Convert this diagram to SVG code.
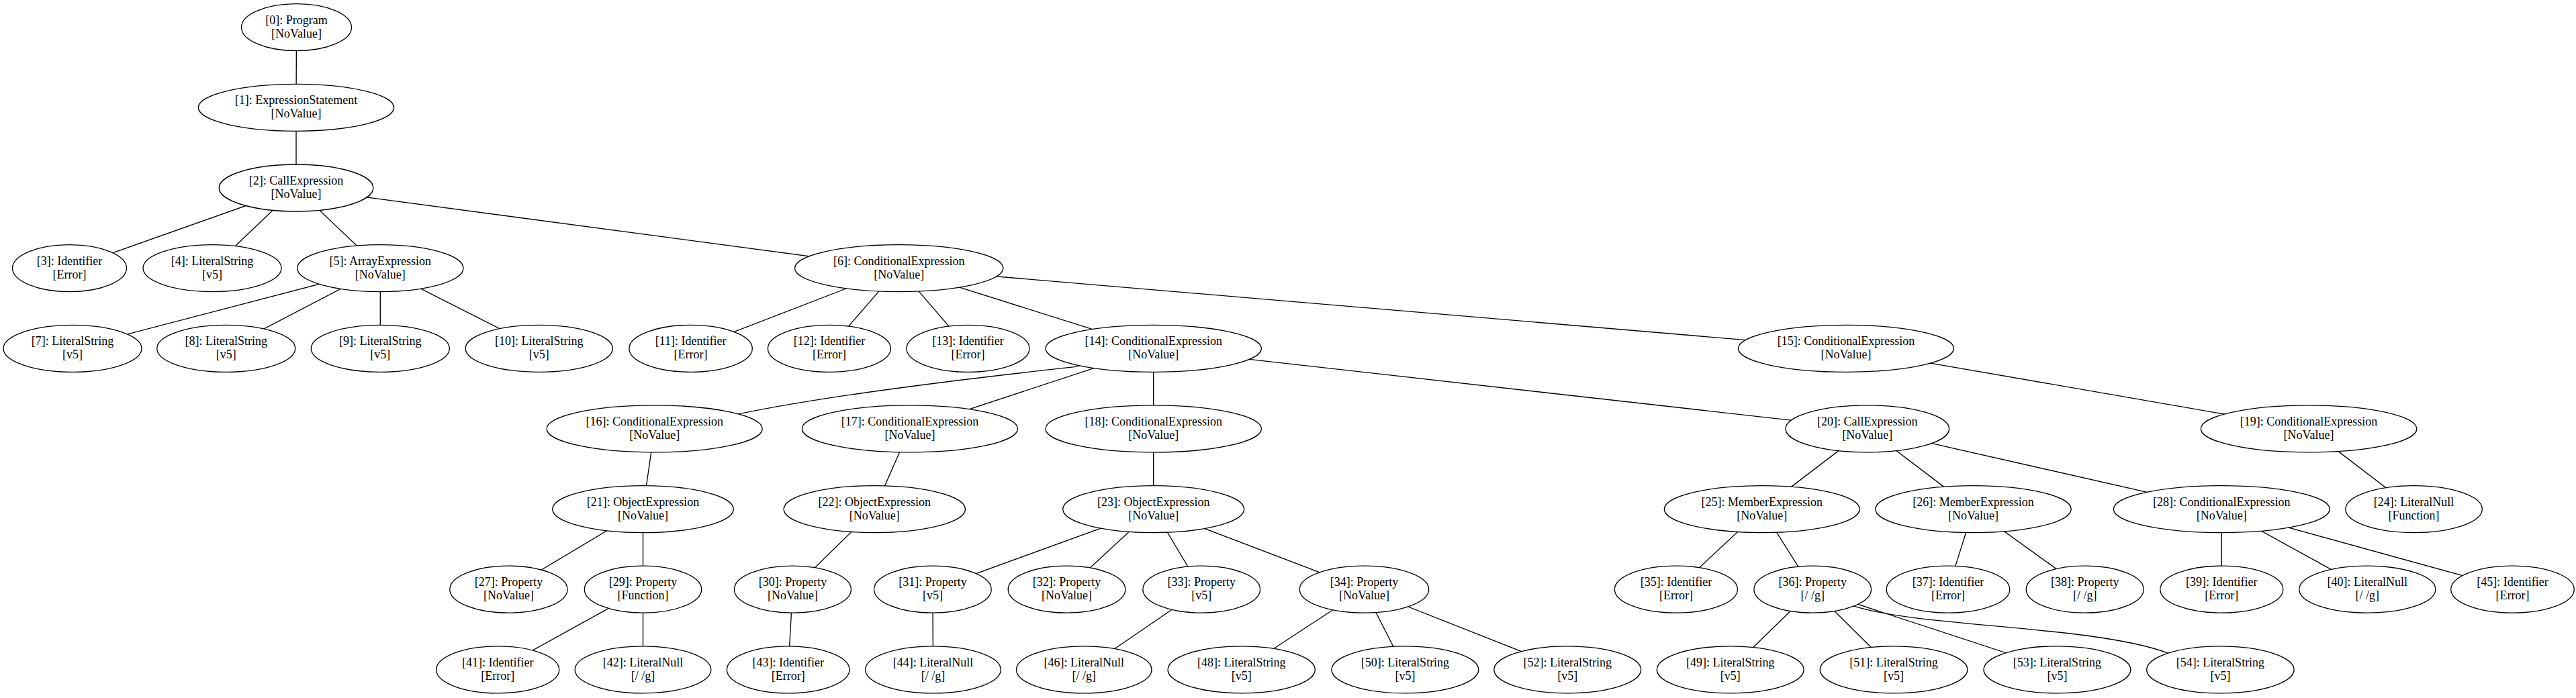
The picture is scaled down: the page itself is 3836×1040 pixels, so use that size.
<svg xmlns="http://www.w3.org/2000/svg" width="3836" height="1040" viewBox="0 0 3836 1040">
<style>
ellipse{fill:#fff;stroke:#000;stroke-width:1.33}
.e line,.e path{stroke:#000;stroke-width:1.33;fill:none}
text{font-family:"Liberation Serif","Times New Roman",serif;font-size:18px;fill:#000;text-anchor:middle}
</style>
<rect width="3836" height="1040" fill="#fff"/>
<g id="edges" class="e">
<line x1="441.5" y1="40.7" x2="441" y2="160.3"/>
<line x1="441" y1="160.3" x2="441" y2="280"/>
<line x1="441" y1="280" x2="103.5" y2="399.6"/>
<line x1="441" y1="280" x2="316" y2="399.6"/>
<line x1="441" y1="280" x2="566.3" y2="399.6"/>
<line x1="441" y1="280" x2="1338.7" y2="399.6"/>
<line x1="566.3" y1="399.6" x2="108" y2="519.3"/>
<line x1="566.3" y1="399.6" x2="336.7" y2="519.3"/>
<line x1="566.3" y1="399.6" x2="566.3" y2="519.3"/>
<line x1="566.3" y1="399.6" x2="802.7" y2="519.3"/>
<line x1="1338.7" y1="399.6" x2="1028.6" y2="519.3"/>
<line x1="1338.7" y1="399.6" x2="1234.9" y2="519.3"/>
<line x1="1338.7" y1="399.6" x2="1441.5" y2="519.3"/>
<line x1="1338.7" y1="399.6" x2="1717.7" y2="519.3"/>
<line x1="1338.7" y1="399.6" x2="2749" y2="519.3"/>
<path d="M1717.7,519.3 L1600,546.7 Q1255.6,584.3 1100.8,616.7 L974.7,638.9"/>
<line x1="1717.7" y1="519.3" x2="1354.9" y2="638.9"/>
<line x1="1717.7" y1="519.3" x2="1717.7" y2="638.9"/>
<line x1="1717.7" y1="519.3" x2="2780.8" y2="638.9"/>
<line x1="2749" y1="519.3" x2="3438.1" y2="638.9"/>
<line x1="974.7" y1="638.9" x2="957.5" y2="758.6"/>
<line x1="1354.9" y1="638.9" x2="1302.3" y2="758.6"/>
<line x1="1717.7" y1="638.9" x2="1717.7" y2="758.6"/>
<line x1="2780.8" y1="638.9" x2="2623.8" y2="758.6"/>
<line x1="2780.8" y1="638.9" x2="2938.5" y2="758.6"/>
<line x1="2780.8" y1="638.9" x2="3308.3" y2="758.6"/>
<line x1="3438.1" y1="638.9" x2="3594.6" y2="758.6"/>
<line x1="957.5" y1="758.6" x2="757.4" y2="878.2"/>
<line x1="957.5" y1="758.6" x2="957.5" y2="878.2"/>
<line x1="1302.3" y1="758.6" x2="1180.4" y2="878.2"/>
<line x1="1717.7" y1="758.6" x2="1388.9" y2="878.2"/>
<line x1="1717.7" y1="758.6" x2="1588.5" y2="878.2"/>
<line x1="1717.7" y1="758.6" x2="1789.2" y2="878.2"/>
<line x1="1717.7" y1="758.6" x2="2031.5" y2="878.2"/>
<line x1="2623.8" y1="758.6" x2="2495.9" y2="878.2"/>
<line x1="2623.8" y1="758.6" x2="2699.2" y2="878.2"/>
<line x1="2938.5" y1="758.6" x2="2901" y2="878.2"/>
<line x1="2938.5" y1="758.6" x2="3104.7" y2="878.2"/>
<line x1="3308.3" y1="758.6" x2="3308.3" y2="878.2"/>
<line x1="3308.3" y1="758.6" x2="3525.3" y2="878.2"/>
<line x1="3308.3" y1="758.6" x2="3741.5" y2="878.2"/>
<line x1="957.5" y1="878.2" x2="741.2" y2="997.8"/>
<line x1="957.5" y1="878.2" x2="957.5" y2="997.8"/>
<line x1="1180.4" y1="878.2" x2="1173.7" y2="997.8"/>
<line x1="1388.9" y1="878.2" x2="1389.5" y2="997.8"/>
<line x1="1789.2" y1="878.2" x2="1614.2" y2="997.8"/>
<line x1="2031.5" y1="878.2" x2="1848.7" y2="997.8"/>
<line x1="2031.5" y1="878.2" x2="2092.4" y2="997.8"/>
<line x1="2031.5" y1="878.2" x2="2334.2" y2="997.8"/>
<line x1="2699.2" y1="878.2" x2="2576.7" y2="997.8"/>
<line x1="2699.2" y1="878.2" x2="2820" y2="997.8"/>
<line x1="2699.2" y1="878.2" x2="3063.4" y2="997.8"/>
<path d="M2699.2,878.2 L2762,903.3 C2860,935 3120,932 3229,973.3 L3306.4,997.8"/>
</g>
<g id="node0"><ellipse cx="441.5" cy="40.7" rx="82" ry="35"/><text x="441.5" y="35.7">[0]: Program</text><text x="441.5" y="55.7">[NoValue]</text></g>
<g id="node1"><ellipse cx="441" cy="160.3" rx="145.7" ry="35"/><text x="441" y="155.3">[1]: ExpressionStatement</text><text x="441" y="175.3">[NoValue]</text></g>
<g id="node2"><ellipse cx="441" cy="280" rx="114.8" ry="35"/><text x="441" y="275">[2]: CallExpression</text><text x="441" y="295">[NoValue]</text></g>
<g id="node3"><ellipse cx="103.5" cy="399.6" rx="85" ry="35"/><text x="103.5" y="394.6">[3]: Identifier</text><text x="103.5" y="414.6">[Error]</text></g>
<g id="node4"><ellipse cx="316" cy="399.6" rx="103" ry="35"/><text x="316" y="394.6">[4]: LiteralString</text><text x="316" y="414.6">[v5]</text></g>
<g id="node5"><ellipse cx="566.3" cy="399.6" rx="123.7" ry="35"/><text x="566.3" y="394.6">[5]: ArrayExpression</text><text x="566.3" y="414.6">[NoValue]</text></g>
<g id="node6"><ellipse cx="1338.7" cy="399.6" rx="155.2" ry="35"/><text x="1338.7" y="394.6">[6]: ConditionalExpression</text><text x="1338.7" y="414.6">[NoValue]</text></g>
<g id="node7"><ellipse cx="108" cy="519.3" rx="103" ry="35"/><text x="108" y="514.3">[7]: LiteralString</text><text x="108" y="534.3">[v5]</text></g>
<g id="node8"><ellipse cx="336.7" cy="519.3" rx="103" ry="35"/><text x="336.7" y="514.3">[8]: LiteralString</text><text x="336.7" y="534.3">[v5]</text></g>
<g id="node9"><ellipse cx="566.3" cy="519.3" rx="103" ry="35"/><text x="566.3" y="514.3">[9]: LiteralString</text><text x="566.3" y="534.3">[v5]</text></g>
<g id="node10"><ellipse cx="802.7" cy="519.3" rx="109.6" ry="35"/><text x="802.7" y="514.3">[10]: LiteralString</text><text x="802.7" y="534.3">[v5]</text></g>
<g id="node11"><ellipse cx="1028.6" cy="519.3" rx="91.7" ry="35"/><text x="1028.6" y="514.3">[11]: Identifier</text><text x="1028.6" y="534.3">[Error]</text></g>
<g id="node12"><ellipse cx="1234.9" cy="519.3" rx="91.5" ry="35"/><text x="1234.9" y="514.3">[12]: Identifier</text><text x="1234.9" y="534.3">[Error]</text></g>
<g id="node13"><ellipse cx="1441.5" cy="519.3" rx="91.5" ry="35"/><text x="1441.5" y="514.3">[13]: Identifier</text><text x="1441.5" y="534.3">[Error]</text></g>
<g id="node14"><ellipse cx="1717.7" cy="519.3" rx="160.7" ry="35"/><text x="1717.7" y="514.3">[14]: ConditionalExpression</text><text x="1717.7" y="534.3">[NoValue]</text></g>
<g id="node15"><ellipse cx="2749" cy="519.3" rx="160.5" ry="35"/><text x="2749" y="514.3">[15]: ConditionalExpression</text><text x="2749" y="534.3">[NoValue]</text></g>
<g id="node16"><ellipse cx="974.7" cy="638.9" rx="160.5" ry="35"/><text x="974.7" y="633.9">[16]: ConditionalExpression</text><text x="974.7" y="653.9">[NoValue]</text></g>
<g id="node17"><ellipse cx="1354.9" cy="638.9" rx="160.5" ry="35"/><text x="1354.9" y="633.9">[17]: ConditionalExpression</text><text x="1354.9" y="653.9">[NoValue]</text></g>
<g id="node18"><ellipse cx="1717.7" cy="638.9" rx="160.7" ry="35"/><text x="1717.7" y="633.9">[18]: ConditionalExpression</text><text x="1717.7" y="653.9">[NoValue]</text></g>
<g id="node19"><ellipse cx="3438.1" cy="638.9" rx="160.7" ry="35"/><text x="3438.1" y="633.9">[19]: ConditionalExpression</text><text x="3438.1" y="653.9">[NoValue]</text></g>
<g id="node20"><ellipse cx="2780.8" cy="638.9" rx="121.8" ry="35"/><text x="2780.8" y="633.9">[20]: CallExpression</text><text x="2780.8" y="653.9">[NoValue]</text></g>
<g id="node21"><ellipse cx="957.5" cy="758.6" rx="134.8" ry="35"/><text x="957.5" y="753.6">[21]: ObjectExpression</text><text x="957.5" y="773.6">[NoValue]</text></g>
<g id="node22"><ellipse cx="1302.3" cy="758.6" rx="135.2" ry="35"/><text x="1302.3" y="753.6">[22]: ObjectExpression</text><text x="1302.3" y="773.6">[NoValue]</text></g>
<g id="node23"><ellipse cx="1717.7" cy="758.6" rx="135" ry="35"/><text x="1717.7" y="753.6">[23]: ObjectExpression</text><text x="1717.7" y="773.6">[NoValue]</text></g>
<g id="node24"><ellipse cx="3594.6" cy="758.6" rx="101.7" ry="35"/><text x="3594.6" y="753.6">[24]: LiteralNull</text><text x="3594.6" y="773.6">[Function]</text></g>
<g id="node25"><ellipse cx="2623.8" cy="758.6" rx="145.5" ry="35"/><text x="2623.8" y="753.6">[25]: MemberExpression</text><text x="2623.8" y="773.6">[NoValue]</text></g>
<g id="node26"><ellipse cx="2938.5" cy="758.6" rx="145.7" ry="35"/><text x="2938.5" y="753.6">[26]: MemberExpression</text><text x="2938.5" y="773.6">[NoValue]</text></g>
<g id="node27"><ellipse cx="757.4" cy="878.2" rx="87.6" ry="35"/><text x="757.4" y="873.2">[27]: Property</text><text x="757.4" y="893.2">[NoValue]</text></g>
<g id="node28"><ellipse cx="3308.3" cy="758.6" rx="161" ry="35"/><text x="3308.3" y="753.6">[28]: ConditionalExpression</text><text x="3308.3" y="773.6">[NoValue]</text></g>
<g id="node29"><ellipse cx="957.5" cy="878.2" rx="87.2" ry="35"/><text x="957.5" y="873.2">[29]: Property</text><text x="957.5" y="893.2">[Function]</text></g>
<g id="node30"><ellipse cx="1180.4" cy="878.2" rx="87" ry="35"/><text x="1180.4" y="873.2">[30]: Property</text><text x="1180.4" y="893.2">[NoValue]</text></g>
<g id="node31"><ellipse cx="1388.9" cy="878.2" rx="87.3" ry="35"/><text x="1388.9" y="873.2">[31]: Property</text><text x="1388.9" y="893.2">[v5]</text></g>
<g id="node32"><ellipse cx="1588.5" cy="878.2" rx="87.3" ry="35"/><text x="1588.5" y="873.2">[32]: Property</text><text x="1588.5" y="893.2">[NoValue]</text></g>
<g id="node33"><ellipse cx="1789.2" cy="878.2" rx="87.3" ry="35"/><text x="1789.2" y="873.2">[33]: Property</text><text x="1789.2" y="893.2">[v5]</text></g>
<g id="node34"><ellipse cx="2031.5" cy="878.2" rx="96.2" ry="35"/><text x="2031.5" y="873.2">[34]: Property</text><text x="2031.5" y="893.2">[NoValue]</text></g>
<g id="node35"><ellipse cx="2495.9" cy="878.2" rx="91.5" ry="35"/><text x="2495.9" y="873.2">[35]: Identifier</text><text x="2495.9" y="893.2">[Error]</text></g>
<g id="node36"><ellipse cx="2699.2" cy="878.2" rx="87.3" ry="35"/><text x="2699.2" y="873.2">[36]: Property</text><text x="2699.2" y="893.2">[/ /g]</text></g>
<g id="node37"><ellipse cx="2901" cy="878.2" rx="91.8" ry="35"/><text x="2901" y="873.2">[37]: Identifier</text><text x="2901" y="893.2">[Error]</text></g>
<g id="node38"><ellipse cx="3104.7" cy="878.2" rx="87.5" ry="35"/><text x="3104.7" y="873.2">[38]: Property</text><text x="3104.7" y="893.2">[/ /g]</text></g>
<g id="node39"><ellipse cx="3308.3" cy="878.2" rx="91.5" ry="35"/><text x="3308.3" y="873.2">[39]: Identifier</text><text x="3308.3" y="893.2">[Error]</text></g>
<g id="node40"><ellipse cx="3525.3" cy="878.2" rx="101.5" ry="35"/><text x="3525.3" y="873.2">[40]: LiteralNull</text><text x="3525.3" y="893.2">[/ /g]</text></g>
<g id="node45"><ellipse cx="3741.5" cy="878.2" rx="91.8" ry="35"/><text x="3741.5" y="873.2">[45]: Identifier</text><text x="3741.5" y="893.2">[Error]</text></g>
<g id="node41"><ellipse cx="741.2" cy="997.8" rx="91.5" ry="35"/><text x="741.2" y="992.8">[41]: Identifier</text><text x="741.2" y="1012.8">[Error]</text></g>
<g id="node42"><ellipse cx="957.5" cy="997.8" rx="101.3" ry="35"/><text x="957.5" y="992.8">[42]: LiteralNull</text><text x="957.5" y="1012.8">[/ /g]</text></g>
<g id="node43"><ellipse cx="1173.7" cy="997.8" rx="91.3" ry="35"/><text x="1173.7" y="992.8">[43]: Identifier</text><text x="1173.7" y="1012.8">[Error]</text></g>
<g id="node44"><ellipse cx="1389.5" cy="997.8" rx="100.8" ry="35"/><text x="1389.5" y="992.8">[44]: LiteralNull</text><text x="1389.5" y="1012.8">[/ /g]</text></g>
<g id="node46"><ellipse cx="1614.2" cy="997.8" rx="100.8" ry="35"/><text x="1614.2" y="992.8">[46]: LiteralNull</text><text x="1614.2" y="1012.8">[/ /g]</text></g>
<g id="node48"><ellipse cx="1848.7" cy="997.8" rx="109.6" ry="35"/><text x="1848.7" y="992.8">[48]: LiteralString</text><text x="1848.7" y="1012.8">[v5]</text></g>
<g id="node50"><ellipse cx="2092.4" cy="997.8" rx="109.4" ry="35"/><text x="2092.4" y="992.8">[50]: LiteralString</text><text x="2092.4" y="1012.8">[v5]</text></g>
<g id="node52"><ellipse cx="2334.2" cy="997.8" rx="109.4" ry="35"/><text x="2334.2" y="992.8">[52]: LiteralString</text><text x="2334.2" y="1012.8">[v5]</text></g>
<g id="node49"><ellipse cx="2576.7" cy="997.8" rx="109.4" ry="35"/><text x="2576.7" y="992.8">[49]: LiteralString</text><text x="2576.7" y="1012.8">[v5]</text></g>
<g id="node51"><ellipse cx="2820" cy="997.8" rx="109.8" ry="35"/><text x="2820" y="992.8">[51]: LiteralString</text><text x="2820" y="1012.8">[v5]</text></g>
<g id="node53"><ellipse cx="3063.4" cy="997.8" rx="109.4" ry="35"/><text x="3063.4" y="992.8">[53]: LiteralString</text><text x="3063.4" y="1012.8">[v5]</text></g>
<g id="node54"><ellipse cx="3306.4" cy="997.8" rx="109.7" ry="35"/><text x="3306.4" y="992.8">[54]: LiteralString</text><text x="3306.4" y="1012.8">[v5]</text></g>
</svg>
